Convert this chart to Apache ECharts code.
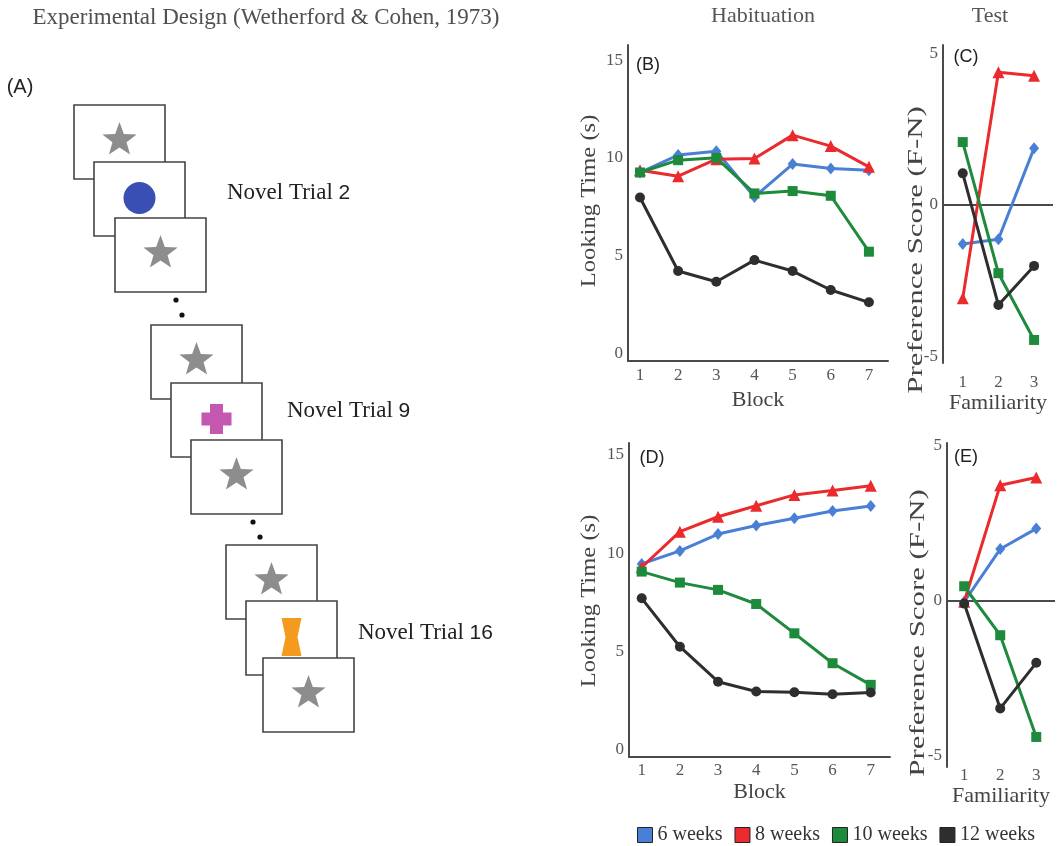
<!DOCTYPE html>
<html>
<head>
<meta charset="utf-8">
<script src="https://cdn.jsdelivr.net/npm/echarts@6/dist/echarts.min.js"></script>
<style>
html, body { margin: 0; padding: 0; background: #fff; }
#chart { width: 1057px; height: 846px; }
</style>
</head>
<body>
<div id="chart"></div>
<script>
// Age groups and axis categories
const ageGroups = ['6 weeks', '8 weeks', '10 weeks', '12 weeks'];
const blocks = [1, 2, 3, 4, 5, 6, 7];
const familiarity = [1, 2, 3];
const lookTicks = [0, 5, 10, 15];
const prefTicks = [-5, 0, 5];

// (B) Habituation looking time per block
const habB6 = [9.25, 10.14, 10.34, 8.0, 9.68, 9.45, 9.37];
const habB8 = [9.37, 9.06, 9.93, 9.97, 11.16, 10.6, 9.54];
const habB10 = [9.25, 9.88, 10.0, 8.18, 8.3, 8.06, 5.2];
const habB12 = [7.97, 4.21, 3.66, 4.77, 4.21, 3.24, 2.61];

// (C) Test preference score per familiarity level
const testC6 = [-1.29, -1.13, 1.87];
const testC8 = [-3.08, 4.37, 4.26];
const testC10 = [2.07, -2.25, -4.45];
const testC12 = [1.04, -3.30, -2.01];

// (D) Habituation looking time per block
const habD6 = [9.46, 10.12, 10.98, 11.41, 11.78, 12.15, 12.41];
const habD8 = [9.29, 11.1, 11.86, 12.42, 12.97, 13.19, 13.44];
const habD10 = [9.07, 8.51, 8.14, 7.42, 5.93, 4.41, 3.31];
const habD12 = [7.71, 5.25, 3.47, 2.97, 2.93, 2.83, 2.92];

// (E) Test preference score per familiarity level
const testE6 = [-0.03, 1.67, 2.33];
const testE8 = [-0.03, 3.73, 3.98];
const testE10 = [0.47, -1.11, -4.39];
const testE12 = [-0.09, -3.47, -2.0];

const colors = ['#4a7fd6', '#ea2a2c', '#1d8a3c', '#2e2e2e'];
const symbols = ['diamond', 'triangle', 'rect', 'circle'];
const symbolSizes = [[10, 12], 12, 10, 10];

const serif = '"Liberation Serif", "Times New Roman", serif';
const sans = '"Liberation Sans", Arial, sans-serif';
const axisColor = '#4a4a4a';
const tickColor = '#555';

function pairs(xs, ys) { return xs.map((x, i) => [x, ys[i]]); }

function lineSeries(k, xs, ys, gi, extra) {
  return Object.assign({
    type: 'line',
    name: ageGroups[k],
    xAxisIndex: gi,
    yAxisIndex: gi,
    data: pairs(xs, ys),
    symbol: symbols[k],
    symbolSize: symbolSizes[k],
    lineStyle: { color: colors[k], width: 3 },
    itemStyle: { color: colors[k] },
    z: 3 + k,
    animation: false,
    silent: true
  }, extra || {});
}

const zeroLine = {
  markLine: {
    silent: true,
    symbol: ['none', 'none'],
    label: { show: false },
    lineStyle: { color: axisColor, width: 2, type: 'solid' },
    data: [{ yAxis: 0 }],
    z: 2
  }
};

function xAxisCfg(gi, min, max, ticks, showLine, margin, name, nameGap) {
  return {
    gridIndex: gi, type: 'value', min: min, max: max,
    axisLine: { show: showLine, onZero: false, lineStyle: { color: axisColor, width: 2 } },
    axisTick: { show: false },
    splitLine: { show: false },
    axisLabel: { customValues: ticks, color: tickColor, fontFamily: serif, fontSize: 17, margin: margin },
    name: name, nameLocation: 'middle', nameGap: nameGap,
    nameTextStyle: { fontFamily: serif, fontSize: 22, color: '#444', verticalAlign: 'top' }
  };
}

function yAxisCfg(gi, min, max, ticks) {
  return {
    gridIndex: gi, type: 'value', min: min, max: max,
    axisLine: { show: true, onZero: false, lineStyle: { color: axisColor, width: 2 } },
    axisTick: { show: false },
    splitLine: { show: false },
    axisLabel: { customValues: ticks, color: tickColor, fontFamily: serif, fontSize: 17, margin: 5 }
  };
}

// Diagram of the stimulus sequence
const boxW = 91, boxH = 74;
const boxes = [
  [74, 105, 'star'], [94, 162, 'circle'], [115, 218, 'star'],
  [151, 325, 'star'], [171, 383, 'cross'], [191, 440, 'star'],
  [226, 545, 'star'], [246, 601, 'hourglass'], [263, 658, 'star']
];
const dots = [[176, 300], [182, 315], [253, 522], [260, 537]];
const trialLabels = [
  ['Novel Trial ', '2', 227, 193],
  ['Novel Trial ', '9', 287, 411],
  ['Novel Trial ', '16', 358, 633]
];

function starPoints(cx, cy, R, r) {
  const pts = [];
  for (let i = 0; i < 10; i++) {
    const a = -Math.PI / 2 + i * Math.PI / 5;
    const rad = i % 2 ? r : R;
    pts.push([cx + rad * Math.cos(a), cy + rad * Math.sin(a)]);
  }
  return pts;
}

function stimulus(kind, cx, cy) {
  if (kind === 'star') {
    return { type: 'polygon', shape: { points: starPoints(cx, cy - 1, 18, 7.4) }, style: { fill: '#8d8d8d' } };
  }
  if (kind === 'circle') {
    return { type: 'circle', shape: { cx: cx, cy: cy, r: 16 }, style: { fill: '#3a4fb3' } };
  }
  if (kind === 'cross') {
    const s = 15, t = 6.5;
    return { type: 'polygon', shape: { points: [
      [cx - t, cy - s], [cx + t, cy - s], [cx + t, cy - t], [cx + s, cy - t], [cx + s, cy + t], [cx + t, cy + t],
      [cx + t, cy + s], [cx - t, cy + s], [cx - t, cy + t], [cx - s, cy + t], [cx - s, cy - t], [cx - t, cy - t]
    ] }, style: { fill: '#c458b0' } };
  }
  // hourglass
  return { type: 'polygon', shape: { points: [
    [cx - 10, cy - 19], [cx + 10, cy - 19], [cx + 6, cy], [cx + 10, cy + 19], [cx - 10, cy + 19], [cx - 6, cy]
  ] }, style: { fill: '#f49a1e' } };
}

const graphics = [];
boxes.forEach(([x, y, kind]) => {
  graphics.push({ type: 'rect', shape: { x: x, y: y, width: boxW, height: boxH }, style: { fill: '#fff', stroke: '#444', lineWidth: 1.6 } });
  graphics.push(stimulus(kind, x + boxW / 2, y + boxH / 2 - 1));
});
dots.forEach(([x, y]) => graphics.push({ type: 'circle', shape: { cx: x, cy: y, r: 2.6 }, style: { fill: '#111' } }));
trialLabels.forEach(([t, n, x, y]) => graphics.push({
  type: 'text', x: x, y: y,
  style: {
    text: '{a|' + t + '}{b|' + n + '}', verticalAlign: 'middle', align: 'left',
    rich: { a: { fontFamily: serif, fontSize: 23, fill: '#222' }, b: { fontFamily: sans, fontSize: 21, fill: '#222' } }
  }
}));

function plainText(text, x, y, font, size, color, extra) {
  return Object.assign({
    type: 'text', x: x, y: y,
    style: { text: text, fontFamily: font, fontSize: size, fill: color, align: 'center', verticalAlign: 'middle' }
  }, extra || {});
}

graphics.push(plainText('Experimental Design (Wetherford & Cohen, 1973)', 266, 18, serif, 23, '#505050'));
graphics.push(plainText('(A)', 20, 87, sans, 20, '#222'));
graphics.push(plainText('Habituation', 763, 16, serif, 22, '#555'));
graphics.push(plainText('Test', 990, 16, serif, 22, '#555'));
graphics.push(plainText('(B)', 648, 65, sans, 18, '#222'));
graphics.push(plainText('(C)', 966, 57, sans, 18, '#222'));
graphics.push(plainText('(D)', 652, 458, sans, 18, '#222'));
graphics.push(plainText('(E)', 966, 457, sans, 18, '#222'));
graphics.push(plainText('Looking Time (s)', 590, 201, serif, 20, '#444', { rotation: Math.PI / 2, scaleX: 1.23 }));
graphics.push(plainText('Looking Time (s)', 590, 601, serif, 20, '#444', { rotation: Math.PI / 2, scaleX: 1.23 }));
graphics.push(plainText('Preference Score (F-N)', 916, 250, serif, 22, '#444', { rotation: Math.PI / 2, scaleX: 1.4 }));
graphics.push(plainText('Preference Score (F-N)', 918, 633, serif, 22, '#444', { rotation: Math.PI / 2, scaleX: 1.4 }));

const option = {
  backgroundColor: '#fff',
  animation: false,
  grid: [
    { left: 628, top: 45, width: 260, height: 316 },
    { left: 943, top: 45, width: 110, height: 318 },
    { left: 629, top: 443, width: 261, height: 314 },
    { left: 947, top: 443, width: 108, height: 324 }
  ],
  xAxis: [
    xAxisCfg(0, 0.686, 7.5, blocks, true, 6, 'Block', 28),
    xAxisCfg(1, 0.447, 3.53, familiarity, false, 11, 'Familiarity', 26),
    xAxisCfg(2, 0.667, 7.505, blocks, true, 5, 'Block', 24),
    xAxisCfg(3, 0.523, 3.52, familiarity, false, 0, 'Familiarity', 11)
  ],
  yAxis: [
    yAxisCfg(0, -0.39, 15.77, lookTicks),
    yAxisCfg(1, -5.21, 5.27, prefTicks),
    yAxisCfg(2, -0.36, 15.61, lookTicks),
    yAxisCfg(3, -5.36, 5.09, prefTicks)
  ],
  legend: {
    data: ageGroups,
    left: 632, top: 820,
    icon: 'rect', itemWidth: 15, itemHeight: 15, itemGap: 12,
    itemStyle: { borderColor: '#222', borderWidth: 1 },
    textStyle: { fontFamily: serif, fontSize: 20, color: '#333' },
    selectedMode: false
  },
  graphic: graphics,
  series: [
    lineSeries(0, blocks, habB6, 0), lineSeries(1, blocks, habB8, 0),
    lineSeries(2, blocks, habB10, 0), lineSeries(3, blocks, habB12, 0),
    lineSeries(0, familiarity, testC6, 1, zeroLine), lineSeries(1, familiarity, testC8, 1),
    lineSeries(2, familiarity, testC10, 1), lineSeries(3, familiarity, testC12, 1),
    lineSeries(0, blocks, habD6, 2), lineSeries(1, blocks, habD8, 2),
    lineSeries(2, blocks, habD10, 2), lineSeries(3, blocks, habD12, 2),
    lineSeries(0, familiarity, testE6, 3, zeroLine), lineSeries(1, familiarity, testE8, 3),
    lineSeries(2, familiarity, testE10, 3), lineSeries(3, familiarity, testE12, 3)
  ]
};

const chart = echarts.init(document.getElementById('chart'), null, { renderer: 'canvas' });
chart.setOption(option);
</script>
</body>
</html>
